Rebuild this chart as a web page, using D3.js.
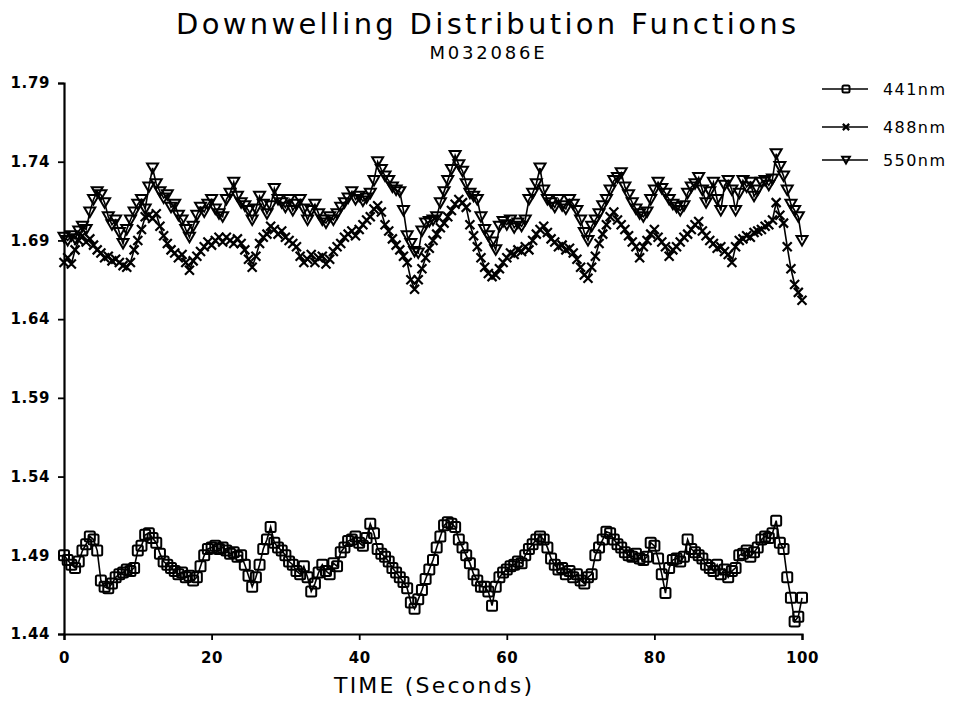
<!DOCTYPE html>
<html>
<head>
<meta charset="utf-8">
<script src="https://cdn.jsdelivr.net/npm/d3@7"></script>
<style>
  body { margin: 0; background: #fff; }
  text { font-family: "DejaVu Sans", sans-serif; fill: #000; }
</style>
</head>
<body>
<svg id="chart" width="953" height="708"></svg>
<script>
// sampling interval of the record (seconds)
const step = 0.5;

const series441 = [
  1.490, 1.487, 1.484, 1.482, 1.486, 1.493, 1.497, 1.502, 1.500, 1.493,
  1.474, 1.470, 1.469, 1.472, 1.476, 1.478, 1.479, 1.481, 1.480, 1.482,
  1.493, 1.496, 1.503, 1.504, 1.501, 1.498, 1.491, 1.486, 1.484, 1.482,
  1.480, 1.478, 1.479, 1.476, 1.477, 1.474, 1.476, 1.483, 1.490, 1.494,
  1.495, 1.496, 1.494, 1.495, 1.493, 1.491, 1.492, 1.489, 1.490, 1.484,
  1.477, 1.470, 1.476, 1.484, 1.494, 1.500, 1.508, 1.498, 1.495, 1.493,
  1.490, 1.486, 1.484, 1.480, 1.478, 1.483, 1.476, 1.467, 1.472, 1.479,
  1.484, 1.480, 1.478, 1.485, 1.483, 1.492, 1.495, 1.499, 1.500, 1.502,
  1.498, 1.496, 1.501, 1.510, 1.504, 1.494, 1.491, 1.489, 1.486, 1.482,
  1.479, 1.476, 1.473, 1.469, 1.460, 1.456, 1.462, 1.468, 1.475, 1.481,
  1.487, 1.495, 1.502, 1.509, 1.511, 1.510, 1.508, 1.500, 1.495, 1.490,
  1.485, 1.478, 1.474, 1.470, 1.470, 1.467, 1.458, 1.470, 1.476, 1.479,
  1.481, 1.483, 1.484, 1.486, 1.485, 1.490, 1.494, 1.497, 1.500, 1.502,
  1.500, 1.495, 1.488, 1.484, 1.481, 1.482, 1.478, 1.480, 1.476, 1.478,
  1.474, 1.472, 1.476, 1.478, 1.490, 1.495, 1.500, 1.505, 1.504, 1.500,
  1.497, 1.495, 1.492, 1.490, 1.489, 1.491, 1.488, 1.487, 1.489, 1.498,
  1.496, 1.488, 1.478, 1.466, 1.482, 1.487, 1.488, 1.486, 1.489, 1.500,
  1.494, 1.492, 1.490, 1.488, 1.484, 1.482, 1.480, 1.484, 1.478, 1.481,
  1.476, 1.480, 1.482, 1.490, 1.491, 1.493, 1.489, 1.492, 1.495, 1.500,
  1.502, 1.501, 1.504, 1.512, 1.498, 1.494, 1.476, 1.463, 1.448, 1.451,
  1.463
];

const series488 = [
  1.676, 1.679, 1.675, 1.684, 1.690, 1.693, 1.689, 1.691, 1.687, 1.684,
  1.682, 1.679, 1.680, 1.677, 1.678, 1.676, 1.674, 1.673, 1.676, 1.684,
  1.690, 1.697, 1.705, 1.706, 1.704, 1.707, 1.699, 1.693, 1.688, 1.684,
  1.682, 1.679, 1.681, 1.676, 1.671, 1.677, 1.680, 1.683, 1.686, 1.689,
  1.687, 1.690, 1.692, 1.689, 1.692, 1.690, 1.688, 1.691, 1.688, 1.684,
  1.678, 1.673, 1.680, 1.688, 1.692, 1.694, 1.699, 1.697, 1.694, 1.696,
  1.692, 1.690, 1.688, 1.686, 1.680, 1.676, 1.678, 1.681, 1.676, 1.679,
  1.680, 1.675, 1.678, 1.683, 1.686, 1.688, 1.692, 1.694, 1.696, 1.693,
  1.697, 1.700, 1.703, 1.705, 1.710, 1.712, 1.708, 1.700, 1.696, 1.691,
  1.687, 1.684, 1.680, 1.676, 1.665, 1.659, 1.665, 1.672, 1.679, 1.685,
  1.690, 1.694, 1.698, 1.701, 1.705, 1.709, 1.713, 1.716, 1.714, 1.711,
  1.700, 1.693, 1.686, 1.679, 1.673, 1.669, 1.667, 1.668, 1.672, 1.676,
  1.679, 1.682, 1.681, 1.684, 1.683, 1.686, 1.684, 1.690, 1.694, 1.697,
  1.699, 1.695, 1.691, 1.689, 1.686, 1.687, 1.684, 1.685, 1.682, 1.678,
  1.673, 1.668, 1.666, 1.673, 1.680, 1.688, 1.694, 1.700, 1.705, 1.708,
  1.703, 1.700, 1.697, 1.693, 1.689, 1.686, 1.679, 1.686, 1.690, 1.694,
  1.697, 1.692, 1.689, 1.686, 1.680, 1.684, 1.686, 1.689, 1.692, 1.694,
  1.697, 1.700, 1.702, 1.696, 1.693, 1.690, 1.688, 1.685, 1.686, 1.683,
  1.681, 1.676, 1.686, 1.690, 1.691, 1.693, 1.692, 1.695, 1.696, 1.697,
  1.699, 1.700, 1.703, 1.714, 1.706, 1.701, 1.686, 1.672, 1.662, 1.657,
  1.652
];

const series550 = [
  1.692, 1.690, 1.693, 1.691, 1.696, 1.699, 1.697, 1.708, 1.716, 1.721,
  1.719, 1.714, 1.705, 1.700, 1.703, 1.695, 1.688, 1.697, 1.703, 1.708,
  1.713, 1.716, 1.710, 1.724, 1.736, 1.726, 1.721, 1.717, 1.719, 1.711,
  1.713, 1.706, 1.703, 1.697, 1.692, 1.699, 1.706, 1.711, 1.708, 1.713,
  1.716, 1.710, 1.707, 1.705, 1.716, 1.720, 1.727, 1.718, 1.714, 1.712,
  1.709, 1.703, 1.710, 1.718, 1.713, 1.707, 1.712, 1.723, 1.716, 1.714,
  1.711, 1.716, 1.709, 1.713, 1.716, 1.710, 1.703, 1.709, 1.713, 1.707,
  1.703, 1.701, 1.705, 1.703, 1.707, 1.711, 1.714, 1.717, 1.721, 1.716,
  1.718, 1.715, 1.717, 1.720, 1.728, 1.740, 1.735, 1.731, 1.728, 1.724,
  1.722, 1.721, 1.709, 1.693, 1.688, 1.683, 1.682, 1.696, 1.701, 1.702,
  1.703, 1.705, 1.714, 1.721, 1.728, 1.735, 1.744, 1.738, 1.734, 1.726,
  1.720, 1.718, 1.716, 1.705, 1.697, 1.693, 1.689, 1.684, 1.699, 1.702,
  1.700, 1.703, 1.698, 1.701, 1.699, 1.703, 1.716, 1.720, 1.726, 1.736,
  1.722, 1.716, 1.714, 1.711, 1.716, 1.712, 1.710, 1.716, 1.713, 1.709,
  1.703, 1.695, 1.690, 1.699, 1.703, 1.707, 1.712, 1.716, 1.722, 1.728,
  1.730, 1.733, 1.724, 1.719, 1.714, 1.710, 1.707, 1.705, 1.708, 1.716,
  1.722, 1.727, 1.723, 1.720, 1.716, 1.713, 1.711, 1.709, 1.712, 1.720,
  1.724, 1.726, 1.730, 1.722, 1.714, 1.721, 1.727, 1.716, 1.709, 1.725,
  1.728, 1.722, 1.709, 1.720, 1.728, 1.724, 1.727, 1.718, 1.722, 1.727,
  1.728, 1.725, 1.729, 1.745, 1.737, 1.731, 1.722, 1.713, 1.709, 1.705,
  1.690
];

const seriesNames = ['441nm', '488nm', '550nm'];
const seriesMarkers = ['square', 'cross', 'triangle'];
const legendY = [89, 127, 160];
const yTicks = [1.44, 1.49, 1.54, 1.59, 1.64, 1.69, 1.74, 1.79];
const xTicks = [0, 20, 40, 60, 80, 100];

const svg = d3.select('#chart');

const x = d3.scaleLinear().domain([0, 100]).range([64, 802]);
const y = d3.scaleLinear().domain([1.44, 1.79]).range([634, 83]);

// titles
svg.append('text')
  .attr('x', 486).attr('y', 34)
  .attr('text-anchor', 'middle')
  .attr('font-size', '29px')
  .attr('textLength', 620)
  .attr('lengthAdjust', 'spacing')
  .text('Downwelling Distribution Functions');

svg.append('text')
  .attr('x', 487).attr('y', 59)
  .attr('text-anchor', 'middle')
  .attr('font-size', '18px')
  .attr('textLength', 115)
  .text('M032086E');

// axes
const yAxis = svg.append('g')
  .attr('transform', 'translate(64,0)')
  .call(d3.axisLeft(y).tickValues(yTicks).tickFormat(d3.format('.2f')).tickSize(6).tickPadding(8));

const xAxis = svg.append('g')
  .attr('transform', 'translate(0,634)')
  .call(d3.axisBottom(x).tickValues(xTicks).tickSize(6).tickPadding(12));

[yAxis, xAxis].forEach(ax => {
  ax.select('.domain').attr('stroke', '#000').attr('stroke-width', 2.2);
  ax.selectAll('.tick line').attr('stroke', '#000').attr('stroke-width', 1.8);
  ax.selectAll('.tick text')
    .attr('font-family', '"DejaVu Sans", sans-serif')
    .attr('font-size', '15px')
    .attr('font-weight', 'bold')
    .attr('letter-spacing', '0.6px')
    .attr('fill', '#000');
});

svg.append('text')
  .attr('x', 433).attr('y', 693)
  .attr('text-anchor', 'middle')
  .attr('font-size', '22px')
  .attr('textLength', 198)
  .text('TIME (Seconds)');

// marker shapes drawn at (0,0)
const drawMarker = (sel, kind, s = 1) => {
  if (kind === 'square') {
    sel.append('rect')
      .attr('x', -5 * s).attr('y', -5 * s).attr('width', 10 * s).attr('height', 10 * s)
      .attr('rx', 1.5)
      .attr('fill', 'none').attr('stroke', '#000').attr('stroke-width', 2);
  } else if (kind === 'triangle') {
    sel.append('path')
      .attr('d', `M${-5.5 * s},${-4.5 * s} L${5.5 * s},${-4.5 * s} L0,${5 * s} Z`)
      .attr('fill', 'none').attr('stroke', '#000').attr('stroke-width', 2);
  } else {
    sel.append('path')
      .attr('d', `M${-4.5 * s},${-4.5 * s} L${4.5 * s},${4.5 * s} M${-4.5 * s},${4.5 * s} L${4.5 * s},${-4.5 * s}`)
      .attr('fill', 'none').attr('stroke', '#000').attr('stroke-width', 2.2);
  }
};

const allSeries = [series441, series488, series550];
const line = d3.line()
  .x((d, i) => x(i * step))
  .y(d => y(d));

allSeries.forEach((vals, si) => {
  const g = svg.append('g');
  g.append('path')
    .datum(vals)
    .attr('d', line)
    .attr('fill', 'none')
    .attr('stroke', '#000')
    .attr('stroke-width', 1.6);

  g.selectAll('g.pt')
    .data(vals)
    .join('g')
    .attr('class', 'pt')
    .attr('transform', (d, i) => `translate(${x(i * step)},${y(d)})`)
    .each(function () { drawMarker(d3.select(this), seriesMarkers[si]); });
});

// legend
const legend = svg.append('g');
seriesNames.forEach((name, i) => {
  const ly = legendY[i];
  legend.append('line')
    .attr('x1', 822).attr('x2', 868).attr('y1', ly).attr('y2', ly)
    .attr('stroke', '#000').attr('stroke-width', 1.6);
  const m = legend.append('g').attr('transform', `translate(846,${ly})`);
  drawMarker(m, seriesMarkers[i], 0.7);
  legend.append('text')
    .attr('x', 883).attr('y', ly + 6)
    .attr('font-size', '16px')
    .attr('textLength', 62)
    .text(name);
});
</script>
</body>
</html>
